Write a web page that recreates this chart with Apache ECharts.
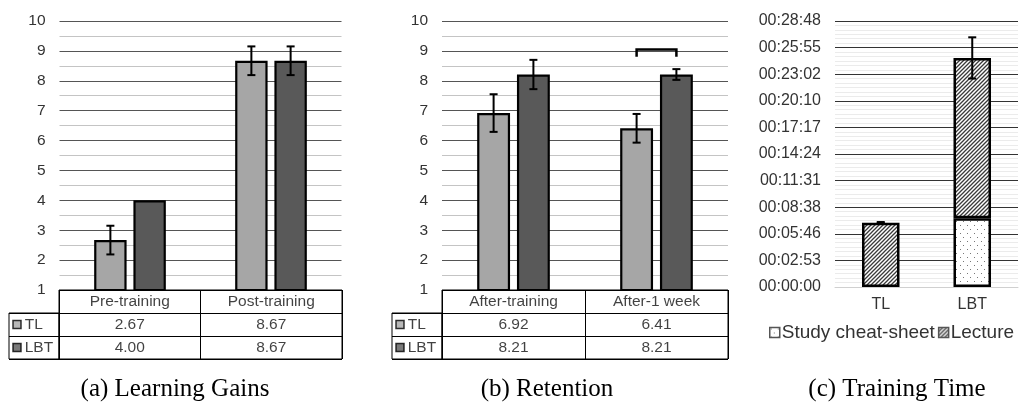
<!DOCTYPE html>
<html>
<head>
<meta charset="utf-8">
<script src="https://cdn.jsdelivr.net/npm/echarts@6/dist/echarts.min.js"></script>
<style>
html,body{margin:0;padding:0;background:#fff;}
#c{width:1027px;height:412px;}
</style>
</head>
<body>
<div id="c"></div>
<script>
// ---------- data ----------
const aCats = ['Pre-training', 'Post-training'];
const aTL = [2.67, 8.67];
const aLBT = [4.00, 8.67];
const aTLErr = [0.48, 0.48];
const aLBTErr = [0, 0.48];

const bCats = ['After-training', 'After-1 week'];
const bTL = [6.92, 6.41];
const bLBT = [8.21, 8.21];
const bTLErr = [0.63, 0.48];
const bLBTErr = [0.49, 0.18];
const bBracket = [[1, 9.05, 8.8]]; // category, top value, leg-end value

const scoreTicks = [1, 10, 1]; // min, max, interval

const cCats = ['TL', 'LBT'];
const cStudy = [0, 446];      // seconds
const cLecture = [418, 1042]; // seconds
const cErr = [4, 134];        // seconds, on total
const timeAxis = [0, 1728, 172.8];

const rowNames = ['TL', 'LBT'];
const captions = ['(a) Learning Gains', '(b) Retention', '(c) Training Time'];

// ---------- styles ----------
const FONT = 'Liberation Sans';
const CTL = '#a6a6a6', CLBT = '#595959';
const BARW = 0.23, GAP = 0.21;

function hatch() {
  const c = document.createElement('canvas'); c.width = c.height = 4;
  const g = c.getContext('2d');
  g.fillStyle = '#fff'; g.fillRect(0, 0, 4, 4);
  g.strokeStyle = '#3a3a3a'; g.lineWidth = 1.3;
  g.beginPath();
  g.moveTo(-1, 5); g.lineTo(5, -1);
  g.moveTo(-1, 1); g.lineTo(1, -1);
  g.moveTo(3, 5); g.lineTo(5, 3);
  g.stroke();
  return c;
}
function dots() {
  const c = document.createElement('canvas'); c.width = 7; c.height = 8;
  const g = c.getContext('2d');
  g.fillStyle = '#fff'; g.fillRect(0, 0, 7, 8);
  g.fillStyle = '#777';
  g.fillRect(1, 1, 1, 1); g.fillRect(4, 5, 1, 1);
  return c;
}
const hatchPat = { image: hatch(), repeat: 'repeat' };
const dotPat = { image: dots(), repeat: 'repeat' };

function fmtTime(v) {
  const s = Math.round(v);
  const h = Math.floor(s / 3600), m = Math.floor((s % 3600) / 60), ss = s % 60;
  const p = n => String(n).padStart(2, '0');
  return p(h) + ':' + p(m) + ':' + p(ss);
}

function errRender(params, api) {
  const cat = api.value(0), v = api.value(1), e = api.value(2), side = api.value(3), bw = api.value(4), gp = api.value(5);
  if (!e) return;
  const band = api.size([1, 0])[0];
  const w = band * bw;
  const off = side * (w + w * gp) / 2;
  const x = api.coord([cat, v])[0] + off;
  const yt = api.coord([cat, v + e])[1];
  const yb = api.coord([cat, v - e])[1];
  const st = { stroke: '#000', lineWidth: 2 };
  return { type: 'group', children: [
    { type: 'line', shape: { x1: x, y1: yt, x2: x, y2: yb }, style: st },
    { type: 'line', shape: { x1: x - 4, y1: yt, x2: x + 4, y2: yt }, style: st },
    { type: 'line', shape: { x1: x - 4, y1: yb, x2: x + 4, y2: yb }, style: st }
  ]};
}
function bracketRender(params, api) {
  const cat = api.value(0), top = api.value(1), leg = api.value(2);
  const band = api.size([1, 0])[0];
  const w = band * BARW;
  const off = (w + w * GAP) / 2;
  const cx = api.coord([cat, top])[0];
  const yt = api.coord([cat, top])[1];
  const yl = api.coord([cat, leg])[1];
  return { type: 'polyline', shape: { points: [[cx - off, yl], [cx - off, yt], [cx + off, yt], [cx + off, yl]] },
    style: { stroke: '#000', lineWidth: 2.5, fill: null } };
}

// ---------- layout ----------
const grids = [
  { left: 59.5, right: 685.5, top: 21, bottom: 122 },          // 0 a chart
  { left: 59, right: 685, top: 290, bottom: 53, show: true, borderColor: '#000', borderWidth: 1 }, // 1 a table
  { left: 9, width: 50, top: 313, bottom: 53, show: true, borderColor: '#000', borderWidth: 1 },   // 2 a legend col
  { left: 442, right: 299, top: 21, bottom: 122 },             // 3 b chart
  { left: 442, right: 299, top: 290, bottom: 53, show: true, borderColor: '#000', borderWidth: 1 }, // 4 b table
  { left: 392, width: 50, top: 313, bottom: 53, show: true, borderColor: '#000', borderWidth: 1 }, // 5 b legend col
  { left: 835, right: 9, top: 21, bottom: 125 }                // 6 c chart
];

const xAxes = [], yAxes = [], series = [];
const TFS = 15.5;

function scorePanel(gChart, gTable, gLeg, cats, tl, lbt, tlErr, lbtErr) {
  const xi = xAxes.length;
  xAxes.push({ type: 'category', gridIndex: gChart, data: cats, axisLine: { show: false }, axisTick: { show: false }, axisLabel: { show: false } });
  yAxes.push({ type: 'value', gridIndex: gChart, min: scoreTicks[0], max: scoreTicks[1], interval: scoreTicks[2],
    axisLine: { show: false }, axisTick: { show: false },
    axisLabel: { fontFamily: FONT, fontSize: 15.5, color: '#333', margin: 14 },
    splitLine: { lineStyle: { color: '#555', width: 1 } },
    minorTick: { show: false, splitNumber: 2 },
    minorSplitLine: { show: true, lineStyle: { color: '#c4c4c4', width: 1 } } });
  const bs = (name, data, color) => ({ type: 'bar', name, xAxisIndex: xi, yAxisIndex: xi, data, barWidth: (BARW * 100) + '%', barGap: (GAP * 100) + '%',
    itemStyle: { color, borderColor: '#000', borderWidth: 2.2 }, z: 2 });
  series.push(bs('TL', tl, CTL), bs('LBT', lbt, CLBT));
  const errData = [];
  tl.forEach((v, i) => errData.push([i, v, tlErr[i], -1, BARW, GAP]));
  lbt.forEach((v, i) => errData.push([i, v, lbtErr[i], 1, BARW, GAP]));
  series.push({ type: 'custom', xAxisIndex: xi, yAxisIndex: xi, renderItem: errRender, data: errData, z: 5, silent: true });

  // table
  const ti = xAxes.length;
  xAxes.push({ type: 'category', gridIndex: gTable, data: cats, axisLine: { show: false }, axisTick: { show: false }, axisLabel: { show: false },
    splitLine: { show: true, lineStyle: { color: '#000', width: 1 } } });
  yAxes.push({ type: 'category', gridIndex: gTable, data: ['hdr'].concat(rowNames), inverse: true, axisLine: { show: false }, axisTick: { show: false }, axisLabel: { show: false },
    splitLine: { show: true, lineStyle: { color: '#000', width: 1 } } });
  const cells = [];
  cats.forEach((c, i) => {
    cells.push({ value: [i, 'hdr'], txt: c });
    cells.push({ value: [i, 'TL'], txt: tl[i].toFixed(2) });
    cells.push({ value: [i, 'LBT'], txt: lbt[i].toFixed(2) });
  });
  series.push({ type: 'scatter', xAxisIndex: ti, yAxisIndex: ti, symbolSize: 1, itemStyle: { color: 'rgba(0,0,0,0)' }, silent: true,
    data: cells.map(d => ({ value: d.value, label: { formatter: d.txt } })),
    label: { show: true, position: 'inside', fontFamily: FONT, fontSize: TFS, color: '#111' } });

  // legend column
  const li = xAxes.length;
  xAxes.push({ type: 'value', gridIndex: gLeg, min: 0, max: 1, show: false });
  yAxes.push({ type: 'category', gridIndex: gLeg, data: rowNames, inverse: true, axisLine: { show: false }, axisTick: { show: false }, axisLabel: { show: false },
    splitLine: { show: true, lineStyle: { color: '#000', width: 1 } } });
  series.push({ type: 'scatter', xAxisIndex: li, yAxisIndex: li, symbol: 'rect', symbolSize: 8, silent: true,
    data: rowNames.map((n, i) => ({ value: [0.16, n], itemStyle: { color: i === 0 ? CTL : CLBT, borderColor: '#000', borderWidth: 1.5 },
      label: { formatter: n } })),
    label: { show: true, position: 'right', distance: 3, fontFamily: FONT, fontSize: TFS, color: '#111' } });
  return xi;
}

scorePanel(0, 1, 2, aCats, aTL, aLBT, aTLErr, aLBTErr);
const bxi = scorePanel(3, 4, 5, bCats, bTL, bLBT, bTLErr, bLBTErr);
series.push({ type: 'custom', xAxisIndex: bxi, yAxisIndex: bxi, renderItem: bracketRender, data: bBracket, z: 5, silent: true });

// panel c
const ci = xAxes.length;
xAxes.push({ type: 'category', gridIndex: 6, data: cCats, axisTick: { show: false },
  axisLine: { show: true, lineStyle: { color: '#d0d0d0', width: 1 } },
  axisLabel: { fontFamily: FONT, fontSize: 16, color: '#333', margin: 10 } });
yAxes.push({ type: 'value', gridIndex: 6, min: timeAxis[0], max: timeAxis[1], interval: timeAxis[2],
  axisLine: { show: false }, axisTick: { show: false },
  axisLabel: { fontFamily: FONT, fontSize: 16, color: '#333', margin: 14, formatter: fmtTime },
  splitLine: { lineStyle: { color: '#333', width: 1 } },
  minorTick: { show: false, splitNumber: 6 },
  minorSplitLine: { show: true, lineStyle: { color: '#ebebeb', width: 1 } } });
series.push({ type: 'bar', name: 'Study cheat-sheet', stack: 't', xAxisIndex: ci, yAxisIndex: ci, data: cStudy.map(v => v || '-'), barWidth: '41%',
  itemStyle: { color: dotPat, borderColor: '#000', borderWidth: 2.5 }, z: 2 });
series.push({ type: 'bar', name: 'Lecture', stack: 't', xAxisIndex: ci, yAxisIndex: ci, data: cLecture, barWidth: '41%',
  itemStyle: { color: hatchPat, borderColor: '#000', borderWidth: 2.5 }, z: 2 });
series.push({ type: 'custom', xAxisIndex: ci, yAxisIndex: ci, renderItem: errRender, z: 5, silent: true,
  data: cCats.map((c, i) => [i, cStudy[i] + cLecture[i], cErr[i], 0, 0.41, 0]) });

const capX = [175, 547, 897];

const chart = echarts.init(document.getElementById('c'), null, { renderer: 'canvas' });
chart.setOption({
  animation: false,
  backgroundColor: '#fff',
  grid: grids,
  xAxis: xAxes,
  yAxis: yAxes,
  series,
  legend: {
    data: ['Study cheat-sheet', 'Lecture'],
    icon: 'rect', orient: 'horizontal',
    left: 769, top: 323, itemWidth: 10, itemHeight: 10, itemGap: 3, padding: 0,
    textStyle: { fontFamily: FONT, fontSize: 19, color: '#333', padding: [0, 0, 0, -3] },
    itemStyle: { borderColor: '#555', borderWidth: 1.5 }
  },
  graphic: captions.map((t, i) => ({
    type: 'text', x: capX[i], y: 389,
    style: { text: t, font: '25px "Liberation Serif"', fill: '#000', textAlign: 'center', textVerticalAlign: 'middle' }
  }))
});
</script>
</body>
</html>
